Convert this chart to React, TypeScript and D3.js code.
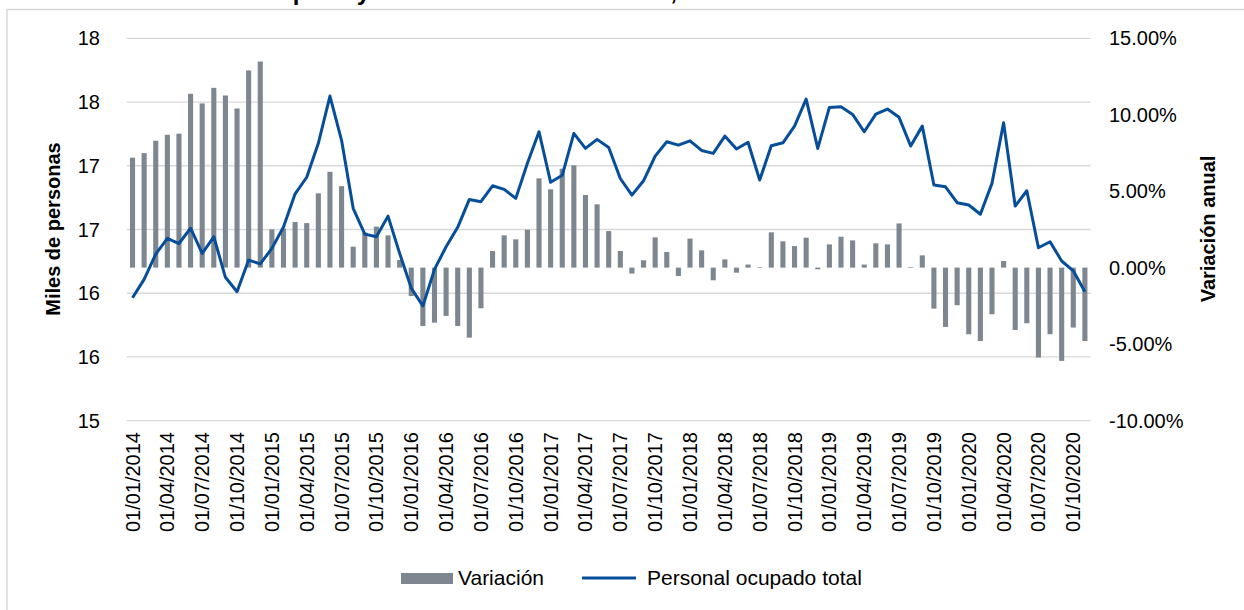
import * as React from "react";
import * as d3 from "d3";

// monthly series, Jan 2014 .. Nov 2020
const months: string[] = d3.timeMonths(new Date(2014, 0, 1), new Date(2020, 11, 1)).map((d) => d3.timeFormat("%d/%m/%Y")(d));

// annual variation (%), right axis
const variacion = [
  7.19, 7.49, 8.3, 8.69, 8.76, 11.37, 10.74, 11.76, 11.26, 10.41,
  12.9, 13.48, 2.5, 2.55, 2.98, 2.91, 4.86, 6.27, 5.33, 1.37,
  2.3, 2.68, 2.11, 0.5, -1.86, -3.82, -3.6, -3.16, -3.82, -4.58,
  -2.66, 1.09, 2.11, 1.85, 2.48, 5.84, 5.12, 6.47, 6.69, 4.75,
  4.14, 2.39, 1.09, -0.39, 0.48, 1.98, 1.02, -0.55, 1.9, 1.13,
  -0.83, 0.54, -0.33, 0.2, 0.04, 2.31, 1.72, 1.41, 1.96, -0.11,
  1.52, 2.02, 1.78, 0.2, 1.59, 1.52, 2.89, 0.04, 0.8, -2.68,
  -3.88, -2.46, -4.36, -4.8, -3.05, 0.43, -4.08, -3.64, -5.88, -4.36,
  -6.1, -3.92, -4.8,
];

// personal ocupado total (miles), left axis
const personal = [
  15.965, 16.109, 16.307, 16.43, 16.39, 16.51, 16.313, 16.443, 16.125, 16.012,
  16.26, 16.23, 16.352, 16.52, 16.78, 16.91, 17.176, 17.547, 17.2, 16.666,
  16.464, 16.443, 16.605, 16.313, 16.04, 15.9, 16.187, 16.365, 16.517, 16.736,
  16.718, 16.843, 16.815, 16.744, 17.019, 17.267, 16.87, 16.925, 17.254, 17.136,
  17.207, 17.144, 16.9, 16.77, 16.882, 17.076, 17.188, 17.162, 17.196, 17.12,
  17.097, 17.233, 17.131, 17.184, 16.888, 17.157, 17.18, 17.311, 17.523, 17.136,
  17.458, 17.463, 17.403, 17.267, 17.405, 17.445, 17.38, 17.155, 17.311, 16.849,
  16.835, 16.71, 16.692, 16.62, 16.862, 17.337, 16.684, 16.804, 16.357, 16.404,
  16.253, 16.176, 16.012,
];

const leftTicks = [15, 15.5, 16, 16.5, 17, 17.5, 18];
const rightTicks = [-10, -5, 0, 5, 10, 15];

const title = "Personal ocupado y variación anual del sector, 2014-2020";

const W = 1244;
const H = 610;
const font = "'Liberation Sans', Arial, sans-serif";
const barColor = "#7e878f";
const lineColor = "#064e9a";

export default function App() {
  const x = d3.scaleBand<string>().domain(months).range([126.7, 1090.7]).padding(0);
  const yL = d3.scaleLinear().domain([15, 18]).range([420.7, 38.3]);
  const yR = d3.scaleLinear().domain([-10, 15]).range([420.5, 38.3]);
  const bw = x.bandwidth();
  const barW = bw * 0.44;
  const cx = (i: number) => (x(months[i]) as number) + bw / 2;

  const line = d3
    .line<number>()
    .x((_, i) => cx(i))
    .y((d) => yL(d));

  const fmtL = d3.format(".0f");
  const fmtR = (v: number) => v.toFixed(2) + "%";

  return (
    <svg width={W} height={H} style={{ position: "absolute", left: 0, top: 0, background: "#fff" }} fontFamily={font}>
      <rect x={7} y={9.5} width={W + 20} height={H + 20} fill="#fff" stroke="#d9d9d9" strokeWidth={1.5} />
      <text x={142} y={0} fontSize={24} fontWeight="bold" fill="#000">{title}</text>

      {/* gridlines */}
      {leftTicks.map((t) => (
        <line key={t} x1={126.7} x2={1090.7} y1={yL(t)} y2={yL(t)} stroke="#d9d9d9" strokeWidth={1.3} />
      ))}

      {/* bars */}
      {variacion.map((v, i) => (
        <rect
          key={i}
          x={cx(i) - barW / 2}
          y={Math.min(yR(v), yR(0))}
          width={barW}
          height={Math.abs(yR(v) - yR(0))}
          fill={barColor}
        />
      ))}

      {/* line */}
      <path d={line(personal) || ""} fill="none" stroke={lineColor} strokeWidth={3} strokeLinejoin="round" />

      {/* left axis labels */}
      {leftTicks.map((t) => (
        <text key={t} x={100} y={yL(t)} dy="0.35em" textAnchor="end" fontSize={20} fill="#000">{fmtL(t)}</text>
      ))}
      <text transform="translate(53,229) rotate(-90)" textAnchor="middle" dy="0.35em" fontSize={20} fontWeight="bold" fill="#000">
        Miles de personas
      </text>

      {/* right axis labels */}
      {rightTicks.map((t) => (
        <text key={t} x={1109} y={yR(t)} dy="0.35em" textAnchor="start" fontSize={20} fill="#000">{fmtR(t)}</text>
      ))}
      <text transform="translate(1208,229) rotate(-90)" textAnchor="middle" dy="0.35em" fontSize={20} fontWeight="bold" fill="#000">
        Variación anual
      </text>

      {/* x labels */}
      {months.map((m, i) =>
        i % 3 === 0 ? (
          <text key={m} transform={`translate(${cx(i)},432) rotate(-90)`} textAnchor="end" dy="0.35em" fontSize={20} fill="#000">
            {m}
          </text>
        ) : null
      )}

      {/* legend */}
      <rect x={401} y={573} width={52} height={11} fill={barColor} />
      <text x={458} y={585} fontSize={21} fill="#000">Variación</text>
      <line x1={582} x2={636} y1={578} y2={578} stroke={lineColor} strokeWidth={3} />
      <text x={647} y={585} fontSize={21} fill="#000">Personal ocupado total</text>
    </svg>
  );
}
